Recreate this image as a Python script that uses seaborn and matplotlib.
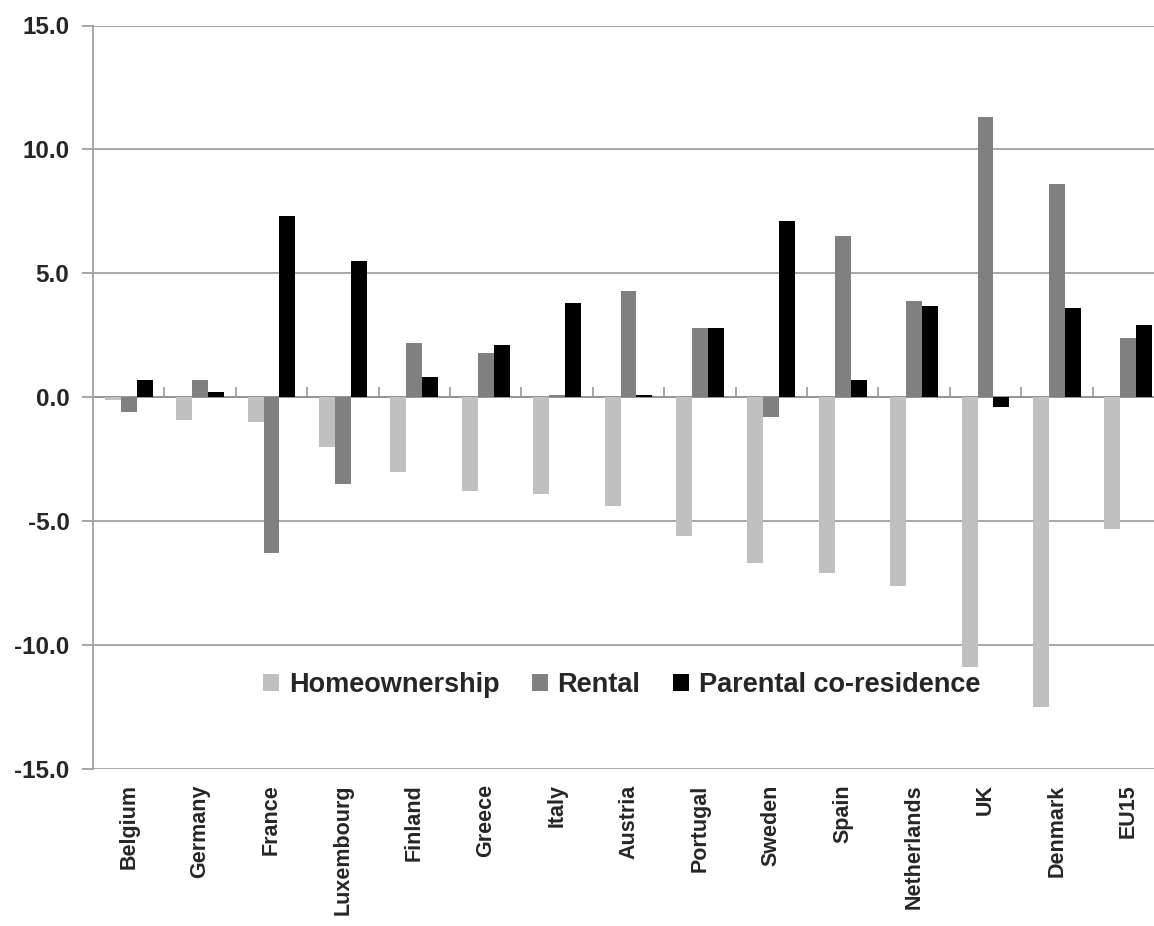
import pandas as pd
import matplotlib.pyplot as plt
import seaborn as sns

# --- Datos ---
countries = ["Belgium", "Germany", "France", "Luxembourg", "Finland", "Greece",
             "Italy", "Austria", "Portugal", "Sweden", "Spain", "Netherlands",
             "UK", "Denmark", "EU15"]
homeownership = [-0.1, -0.9, -1.0, -2.0, -3.0, -3.8, -3.9, -4.4, -5.6, -6.7,
                 -7.1, -7.6, -10.9, -12.5, -5.3]
rental = [-0.6, 0.7, -6.3, -3.5, 2.2, 1.8, 0.1, 4.3, 2.8, -0.8,
          6.5, 3.9, 11.3, 8.6, 2.4]
parental = [0.7, 0.2, 7.3, 5.5, 0.8, 2.1, 3.8, 0.1, 2.8, 7.1,
            0.7, 3.7, -0.4, 3.6, 2.9]
series_names = ["Homeownership", "Rental", "Parental co-residence"]
colors = ["#C0C0C0", "#808080", "#000000"]

df = pd.DataFrame({
    "country": countries * 3,
    "value": homeownership + rental + parental,
    "series": [s for s in series_names for _ in countries],
})

sns.set_theme(style="white")
plt.rcParams["font.family"] = ["Liberation Sans", "DejaVu Sans"]
plt.rcParams["font.weight"] = "bold"

fig = plt.figure(figsize=(11.54, 9.26), dpi=100)
W, H = 1154, 926
left, right, top, bottom = 93, 1164, 25.5, 769
ax = fig.add_axes([left / W, 1 - bottom / H, (right - left) / W, (bottom - top) / H])

sns.barplot(data=df, x="country", y="value", hue="series", palette=colors,
            width=0.672, saturation=1, ax=ax, linewidth=0)

ax.set_ylim(-15, 15)
ax.set_xlim(-0.5, len(countries) - 0.5)
ax.set_yticks([-15, -10, -5, 0, 5, 10, 15])
ax.set_yticklabels([f"{v:.1f}" for v in ax.get_yticks()], fontsize=17.5, fontweight="bold")
ax.yaxis.grid(True, color="#A0A0A0", linewidth=1.3)
ax.set_axisbelow(True)

for s in ["top", "right", "bottom"]:
    ax.spines[s].set_visible(False)
ax.spines["left"].set_color("#A0A0A0")
ax.spines["left"].set_linewidth(1.3)
ax.tick_params(axis="y", left=True, length=8, color="#A0A0A0", width=1.3, pad=9)

ax.set_xticks(range(len(countries)))
ax.set_xticklabels(countries, rotation=90, fontsize=15.5, fontweight="bold")
ax.tick_params(axis="x", bottom=False, length=0, pad=11)
ax.set_xlabel("")
ax.set_ylabel("")

# eje en cero con marcas entre categorias
sec = ax.secondary_xaxis(0.5)
sec.set_xticks([i + 0.5 for i in range(len(countries) - 1)])
sec.set_xticklabels([])
sec.tick_params(length=7, color="#A0A0A0", width=1.3, direction="out")
sec.spines["bottom"].set_color("#A0A0A0")
sec.spines["bottom"].set_linewidth(1.3)

leg = ax.legend(loc="center", bbox_to_anchor=(0.4935, 0.113), ncol=3, frameon=False,
                prop={"size": 19.5, "weight": "bold"}, handlelength=0.6,
                handleheight=0.6, handletextpad=0.35, columnspacing=1.2)

fig.savefig("out.png", dpi=100)
